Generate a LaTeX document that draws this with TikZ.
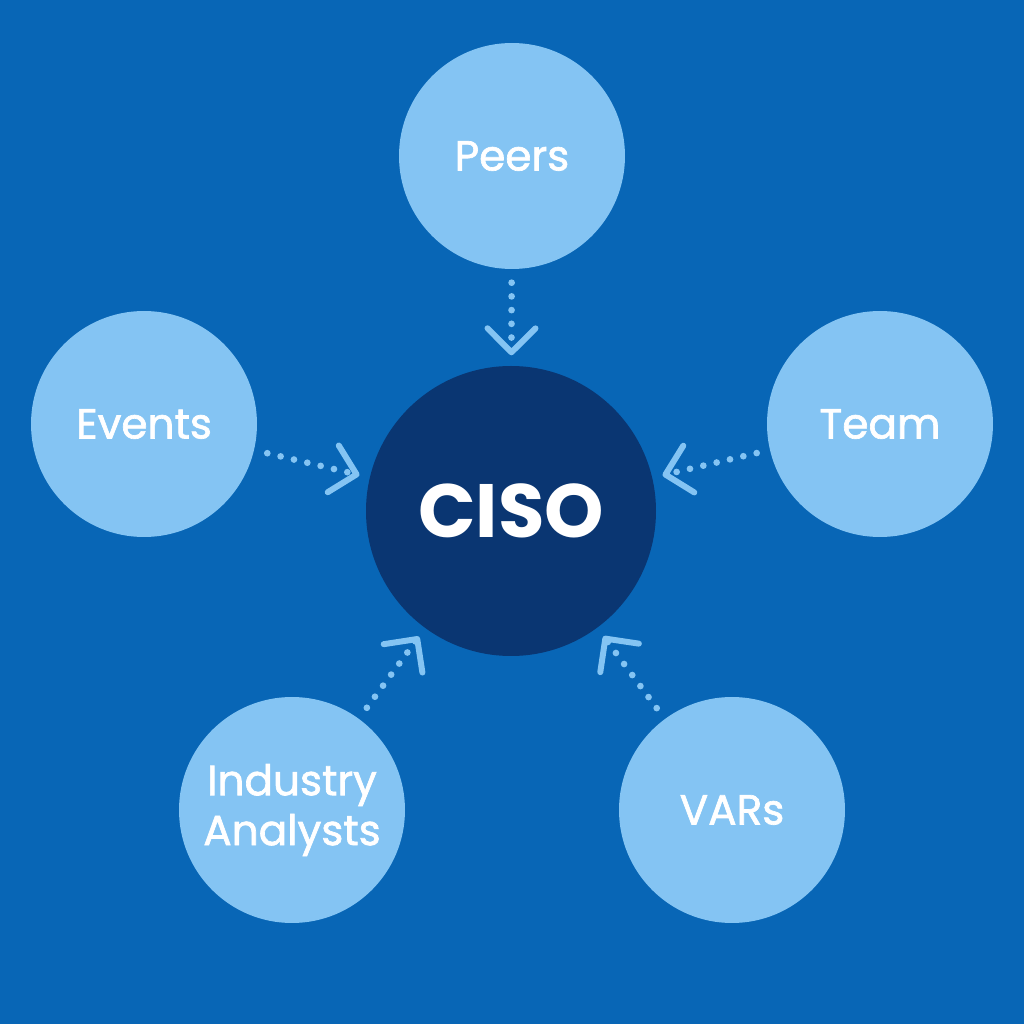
\documentclass[tikz,border=0pt]{standalone}
\usepackage{fontspec}
\setmainfont{Poppins}
\newfontfamily\labelfont{Poppins}[FakeBold=1.6]
\usetikzlibrary{arrows.meta, positioning}
\definecolor{bgblue}{RGB}{8,102,182}
\definecolor{lightblue}{RGB}{132,196,243}
\definecolor{darkblue}{RGB}{10,54,114}

\begin{document}
\begin{tikzpicture}[
    source/.style={circle, fill=lightblue, minimum size=2.26cm, inner sep=0pt,
        text=white, font=\labelfont\fontsize{12}{14.2}\selectfont, align=center},
    center/.style={circle, fill=darkblue, minimum size=2.9cm, inner sep=0pt,
        text=white, font=\fontsize{21.5}{24}\selectfont\bfseries},
    flow/.style={draw=lightblue, line width=1.9pt, line cap=round,
        dash pattern=on 0pt off 3.9pt, shorten <=0.13cm, shorten >=0.10cm,
        -{Straight Barb[length=2.4mm, width=4.8mm, line width=1.7pt, round]}}]

% Background
\fill[bgblue] (0,0) rectangle (10.24,10.24);

% Center node
\node[center] (ciso) at (5.11,5.13) {CISO};

% Sources around it
\node[source] (peers) at (5.12,8.68) {Peers};
\node[source] (events) at (1.44,6.00) {Events};
\node[source] (team) at (8.80,6.00) {Team};
\node[source] (analysts) at (2.92,2.14) {Industry\\Analysts};
\node[source] (vars) at (7.32,2.14) {VARs};

% Dotted arrows into the center
\draw[flow] (peers) -- (ciso);
\draw[flow] (events) -- (ciso);
\draw[flow] (team) -- (ciso);
\draw[flow] (analysts) -- (ciso);
\draw[flow] (vars) -- (ciso);

\end{tikzpicture}
\end{document}
